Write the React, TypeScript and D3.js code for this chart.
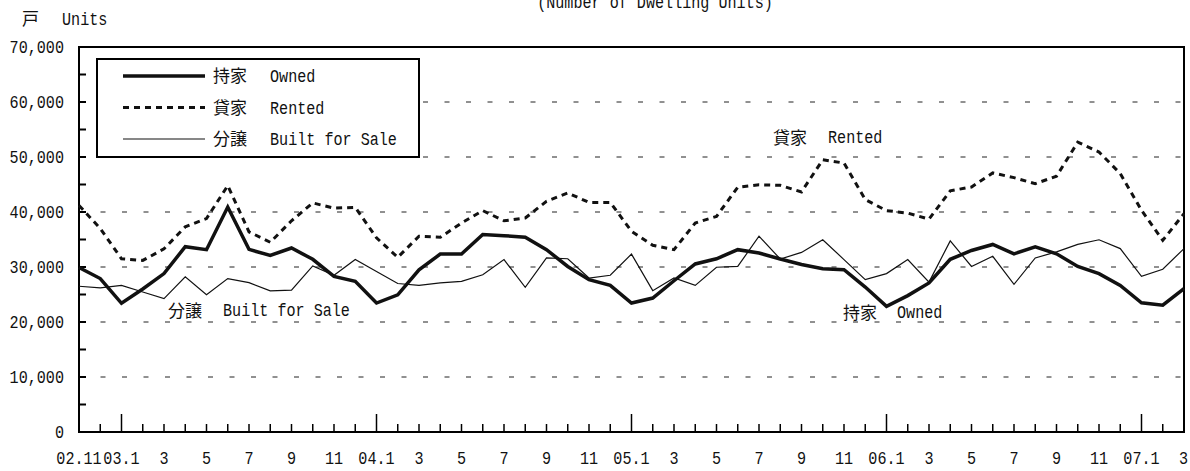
import * as d3 from "d3";
import { useEffect, useRef } from "react";

// monthly starts, 2002.11 - 2007.3
const tickLabels = [
  "02.11", "", "03.1", "", "3", "", "5", "", "7", "", "9", "", "11", "",
  "04.1", "", "3", "", "5", "", "7", "", "9", "", "11", "",
  "05.1", "", "3", "", "5", "", "7", "", "9", "", "11", "",
  "06.1", "", "3", "", "5", "", "7", "", "9", "", "11", "",
  "07.1", "", "3",
];

const owned = [
  29900, 27900, 23400, 26000, 28800, 33700, 33150, 40900, 33200, 32100, 33450, 31400, 28300, 27400,
  23450, 24950, 29500, 32350, 32350, 35900, 35700, 35400, 33150, 30100, 27700, 26650,
  23450, 24350, 27500, 30550, 31500, 33150, 32550, 31450, 30450, 29700, 29500, 26350,
  22850, 24800, 27100, 31400, 33000, 34100, 32400, 33650, 32400, 30100, 28800, 26650,
  23500, 23050, 26050,
];

const rented = [
  41200, 37000, 31500, 31200, 33300, 37300, 38800, 44800, 36400, 34500, 38400, 41650, 40700, 40850,
  35300, 31750, 35600, 35400, 38000, 40250, 38400, 38900, 41950, 43450, 41750, 41750,
  36500, 33950, 33150, 38000, 39200, 44500, 44950, 44850, 43650, 49500, 48900, 42250,
  40250, 39800, 38700, 43850, 44550, 47100, 46250, 45150, 46500, 52700, 50900, 47000,
  40300, 34850, 39700,
];

const builtForSale = [
  26500, 26200, 26650, 25450, 24250, 28200, 24950, 27900, 27150, 25650, 25800, 30200, 28500, 31350,
  29200, 27000, 26650, 27100, 27400, 28600, 31350, 26300, 31650, 31500, 28000, 28500,
  32350, 25700, 28000, 26650, 29950, 30100, 35600, 31450, 32650, 34950, 31350, 27700,
  28800, 31350, 27250, 34750, 30100, 31950, 26850, 31650, 32750, 34100, 34950, 33350,
  28300, 29600, 33350,
];

const yTicks = [0, 10000, 20000, 30000, 40000, 50000, 60000, 70000];

const W = 1190;
const H = 471;
const LATIN = "'Liberation Mono', 'DejaVu Sans Mono', monospace";
const CJK = "'Noto Sans CJK JP', sans-serif";
const SX = 0.84; // narrow gothic look

type G = d3.Selection<any, unknown, null, undefined>;

// condensed latin text, drawn through a horizontal scale
const latin = (g: G, x: number, y: number, s: string, anchor = "start") =>
  g
    .append("text")
    .attr("transform", `translate(${x},${y}) scale(${SX},1)`)
    .attr("text-anchor", anchor)
    .attr("font-family", LATIN)
    .attr("font-size", 18)
    .attr("fill", "#111")
    .text(s);

const cjk = (g: G, x: number, y: number, s: string) =>
  g.append("text").attr("x", x).attr("y", y).attr("font-family", CJK).attr("font-size", 17).attr("fill", "#111").text(s);

const draw = (el: SVGSVGElement) => {
  const svg = d3.select(el) as unknown as G;
  svg.selectAll("*").remove();

  const x = d3.scaleLinear().domain([0, tickLabels.length - 1]).range([79, 1184]);
  const y = d3.scaleLinear().domain([0, 70000]).range([432, 47]);

  svg.append("rect").attr("width", W).attr("height", H).attr("fill", "white");

  // title, partly above the top edge as in the source
  latin(svg, 655, 8, "(Number of Dwelling Units)", "middle");

  // unit label
  cjk(svg, 22, 25, "戸");
  latin(svg, 62, 25, "Units");

  // gridlines
  svg
    .append("g")
    .selectAll("line")
    .data(yTicks.filter((d) => d > 0 && d < 70000))
    .enter()
    .append("line")
    .attr("x1", x(0))
    .attr("x2", x(tickLabels.length - 1))
    .attr("y1", (d) => y(d))
    .attr("y2", (d) => y(d))
    .attr("stroke", "#222")
    .attr("stroke-width", 1)
    .attr("stroke-dasharray", "5 16.5");

  // minor y ticks
  svg
    .append("g")
    .selectAll("line")
    .data(d3.range(5000, 70000, 5000))
    .enter()
    .append("line")
    .attr("x1", x(0))
    .attr("x2", x(0) + 7)
    .attr("y1", (d) => y(d))
    .attr("y2", (d) => y(d))
    .attr("stroke", "black")
    .attr("stroke-width", 2);

  // y labels
  const yl = svg.append("g");
  yTicks.forEach((d) => latin(yl, 64, y(d) + 6, d3.format(",")(d), "end"));

  // x ticks
  svg
    .append("g")
    .selectAll("line")
    .data(tickLabels.map((l, i) => ({ l, i })))
    .enter()
    .append("line")
    .attr("x1", (d) => x(d.i))
    .attr("x2", (d) => x(d.i))
    .attr("y1", y(0))
    .attr("y2", (d) => y(0) - (d.l.includes(".") && d.i > 0 ? 18 : 8))
    .attr("stroke", "black")
    .attr("stroke-width", 1.5);

  const xl = svg.append("g");
  tickLabels.forEach((l, i) => {
    if (!l) return;
    // the last label sits on the right edge, keep it inside the picture
    const last = i === tickLabels.length - 1;
    latin(xl, last ? W - 2 : x(i), 464, l, last ? "end" : "middle");
  });

  // frame
  svg
    .append("rect")
    .attr("x", x(0))
    .attr("y", y(70000))
    .attr("width", x(tickLabels.length - 1) - x(0))
    .attr("height", y(0) - y(70000))
    .attr("fill", "none")
    .attr("stroke", "black")
    .attr("stroke-width", 2);

  const line = d3
    .line<number>()
    .x((_, i) => x(i))
    .y((d) => y(d));

  svg.append("path").attr("d", line(builtForSale)).attr("fill", "none").attr("stroke", "#111").attr("stroke-width", 1.2);
  svg
    .append("path")
    .attr("d", line(rented))
    .attr("fill", "none")
    .attr("stroke", "#111")
    .attr("stroke-width", 3)
    .attr("stroke-dasharray", "6 5");
  svg.append("path").attr("d", line(owned)).attr("fill", "none").attr("stroke", "#111").attr("stroke-width", 3.5);

  // legend
  const legend = svg.append("g");
  legend
    .append("rect")
    .attr("x", 97)
    .attr("y", 59)
    .attr("width", 322)
    .attr("height", 98)
    .attr("fill", "white")
    .attr("stroke", "black")
    .attr("stroke-width", 2);

  const items = [
    { jp: "持家", en: "Owned", w: 3.5, dash: null as string | null },
    { jp: "貸家", en: "Rented", w: 3, dash: "6 5" },
    { jp: "分譲", en: "Built for Sale", w: 1.2, dash: null },
  ];
  items.forEach((it, i) => {
    const cy = 76 + i * 31.5;
    legend
      .append("line")
      .attr("x1", 123)
      .attr("x2", 205)
      .attr("y1", cy)
      .attr("y2", cy)
      .attr("stroke", "#111")
      .attr("stroke-width", it.w)
      .attr("stroke-dasharray", it.dash);
    cjk(legend, 213, cy + 6, it.jp);
    latin(legend, 270, cy + 6, it.en);
  });

  // inline series labels
  const inline = [
    { jp: "分譲", en: "Built for Sale", xj: 168, xe: 223, y: 316 },
    { jp: "貸家", en: "Rented", xj: 773, xe: 828, y: 143 },
    { jp: "持家", en: "Owned", xj: 843, xe: 897, y: 318 },
  ];
  inline.forEach((t) => {
    cjk(svg, t.xj, t.y + 1, t.jp);
    latin(svg, t.xe, t.y, t.en);
  });
};

export const App = () => {
  const ref = useRef<SVGSVGElement>(null);
  useEffect(() => {
    if (!ref.current) return;
    draw(ref.current);
  }, []);
  return (
    <svg
      ref={ref}
      width={W}
      height={H}
      style={{ position: "absolute", left: 0, top: 0 }}
    />
  );
};

export default App;
